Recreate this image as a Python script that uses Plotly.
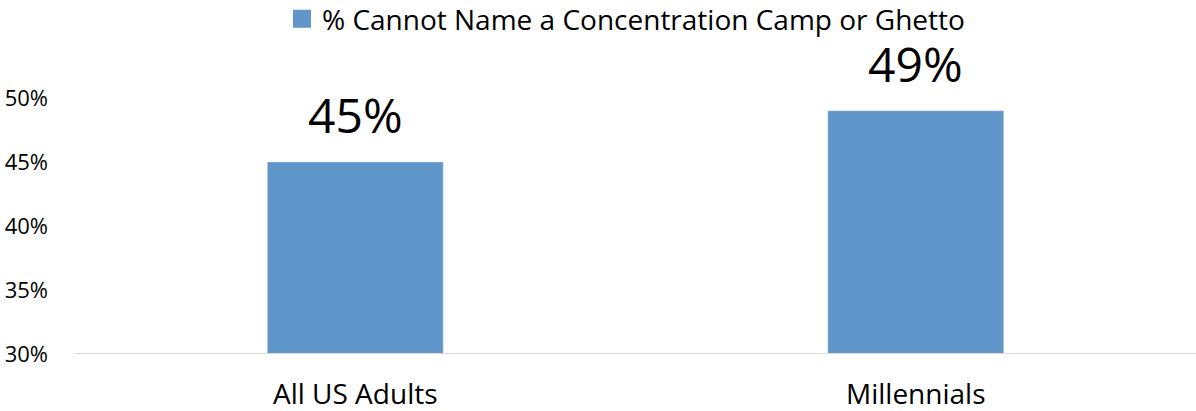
import plotly.graph_objects as go

categories = ["All US Adults", "Millennials"]
values = [45, 49]
labels = ["45%", "49%"]
series_name = "% Cannot Name a Concentration Camp or Ghetto"
tick_vals = [30, 35, 40, 45, 50]
tick_text = ["30%", "35%", "40%", "45%", "50%"]

BAR = "#6096CA"
FONT = "Open Sans"

fig = go.Figure()
fig.add_trace(go.Bar(x=categories, y=values, marker_color=BAR, showlegend=False,
                     hoverinfo="skip"))
fig.add_trace(go.Scatter(x=[None], y=[None], mode="markers", name=series_name,
                         marker=dict(symbol="square", size=14, color=BAR,
                                     line=dict(color=BAR, width=4))))

for c, v, t in zip(categories, values, labels):
    fig.add_annotation(x=c, y=v, text=t, showarrow=False, yanchor="bottom",
                       yshift=13, font=dict(size=48, color="#000000", family=FONT))

fig.update_layout(
    width=1196, height=411,
    margin=dict(l=75, r=0, t=40, b=57),
    paper_bgcolor="white", plot_bgcolor="white",
    font=dict(family=FONT, color="#000000"),
    bargap=0.686,
    legend=dict(orientation="h", x=0.4915, xanchor="center", y=0.9535, yanchor="middle",
                yref="container", font=dict(size=28), itemwidth=30),
    xaxis=dict(showgrid=False, zeroline=False, showline=False, ticks="",
               tickfont=dict(size=28), automargin=False, ticklabelstandoff=21),
    yaxis=dict(range=[30, 54.2], tickvals=tick_vals, ticktext=tick_text,
               showgrid=False, zeroline=False, showline=False, ticks="",
               tickfont=dict(size=22), ticklabelstandoff=26, automargin=False),
)
fig.add_shape(type="line", xref="paper", yref="y", x0=0, x1=1, y0=30, y1=30,
              line=dict(color="#D9D9D9", width=2))
fig.write_html("out.html", config={"displayModeBar": False},
               post_script="document.body.style.margin='0';document.body.style.overflow='hidden';")
